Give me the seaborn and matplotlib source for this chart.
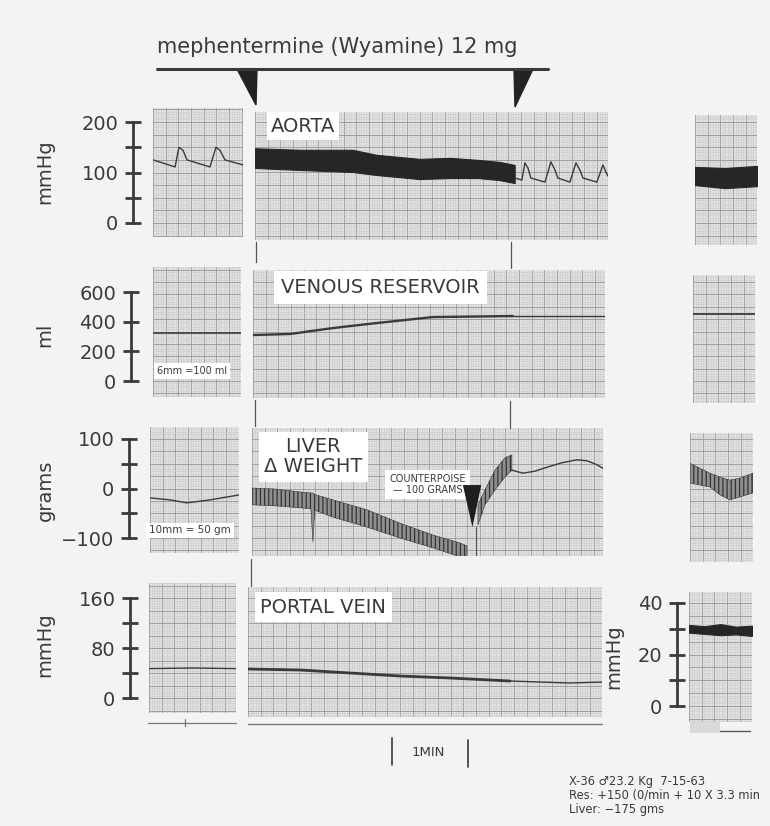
import numpy as np
import pandas as pd
import matplotlib
matplotlib.use("Agg")
import matplotlib.pyplot as plt
import seaborn as sns
from matplotlib.ticker import MultipleLocator
from matplotlib.patches import Polygon, Rectangle
from matplotlib.lines import Line2D

# ---------------- DATA (time in seconds from the left edge of each strip) ----------------
INJ_END = 205.0            # end of mephentermine infusion (s, main strip)
COUNTERPOISE_T = 174.0     # time of counterpoise (s, main liver strip)

# Aorta (mmHg)
AORTA_L_T = [0, 17.4, 20.5, 23.7, 26.8, 45.0, 49.7, 52.9, 56.8, 71.0]
AORTA_L_P = [125, 111, 150, 144, 125, 111, 150, 144, 125, 115]
AORTA_BAND_T = [0, 35.5, 77, 96, 130, 154, 176, 193, 205]
AORTA_BAND_SYS = [148, 145, 145, 135, 127, 129, 125, 121, 115]
AORTA_BAND_DIA = [109, 105, 101, 95, 87, 89, 89, 85, 79]
AORTA_POST_T = [205.2, 210.7, 213.1, 215.5, 217.8, 228.9, 233.6, 236.8, 239.1, 248.6,
                253.4, 256.5, 258.9, 269.9, 274.7, 277.0, 278.6]
AORTA_POST_P = [89, 85, 119, 109, 89, 81, 121, 105, 89, 81, 119, 105, 89, 81, 115, 101, 93]
AORTA_R_T = [0, 23.7, 48.9]
AORTA_R_SYS = [111, 109, 113]
AORTA_R_DIA = [75, 69, 73]

# Venous reservoir (ml)
VEN_L_T = [0, 69.5]
VEN_L_V = [323, 323]
VEN_M_T = [0, 29.2, 63.1, 97.9, 142.1, 205.2, 277.8]
VEN_M_V = [310, 317, 357, 391, 431, 438, 438]
VEN_R_T = [0, 48.9]
VEN_R_V = [452, 452]

# Liver weight change (grams)
LIV_L_T = [0, 15.8, 29.2, 47.4, 70.2]
LIV_L_G = [-19, -23, -29, -23, -13]
LIV_A_T = [0, 18.2, 37.9, 46.5, 48.1, 49.5, 63.9, 90.8, 116.8, 142.9, 164.2, 169.7]
LIV_A_TOP = [1, -1, -7, -9, -9, -12, -23, -43, -70, -94, -110, -116]
LIV_A_BOT = [-33, -35, -39, -41, -108, -44, -58, -78, -100, -120, -138, -138]
LIV_B_T = [178.4, 183.9, 191.8, 199.7, 205.2]
LIV_B_TOP = [-33, -3, 37, 62, 68]
LIV_B_BOT = [-74, -33, -3, 23, 37]
LIV_C_T = [205.2, 213.9, 223.4, 232.8, 244.7, 256.5, 264.4, 271.5, 277.0]
LIV_C_G = [37, 31, 35, 43, 52, 58, 56, 49, 41]
LIV_R_T = [0, 7.9, 15.8, 23.7, 31.6, 39.5, 49.7]
LIV_R_TOP = [51, 41, 31, 23, 17, 21, 31]
LIV_R_BOT = [11, 7, 3, -13, -23, -17, -9]

# Portal vein (mmHg)
POR_L_T = [0, 34, 68.7]
POR_L_P = [47, 48, 47]
POR_M_T = [0, 41, 80.5, 120, 159.4, 206.8, 230.5, 254.1, 279.4]
POR_M_P = [46.4, 44.8, 40, 35.2, 32, 27.2, 25.6, 24, 25.6]
POR_R_T = [0, 12, 25, 37, 49.7]
POR_R_TOP = [31.5, 31, 31.8, 30.8, 31.2]
POR_R_BOT = [28.5, 28, 27.5, 27.8, 27.2]

# Scale bar ticks / labels
AORTA_TICKS = [0, 50, 100, 150, 200];  AORTA_LABELS = ["0", "", "100", "", "200"]
VEN_TICKS = [0, 200, 400, 600];        VEN_LABELS = ["0", "200", "400", "600"]
LIV_TICKS = [-100, -50, 0, 50, 100];   LIV_LABELS = ["\u2212100", "", "0", "", "100"]
POR_TICKS = [0, 40, 80, 120, 160];     POR_LABELS = ["0", "", "80", "", "160"]
PORR_TICKS = [0, 10, 20, 30, 40];      PORR_LABELS = ["0", "", "20", "", "40"]

# ---------------- LAYOUT ----------------
W, H = 770, 826
PX_PER_S = 76 / 60.0
INK = "#3a3a3a"
PAPER = "#e2e2e0"
BG = "#f3f3f1"

sns.set_theme(style="white")
plt.rcParams['font.family'] = ['DejaVu Sans']
plt.rcParams['hatch.linewidth'] = 0.9

fig = plt.figure(figsize=(7.7, 8.26), dpi=100)
fig.patch.set_facecolor(BG)


def frect(x0, y0, x1, y1):
    return [x0 / W, 1 - y1 / H, (x1 - x0) / W, (y1 - y0) / H]


def fx(x):
    return x / W


def fy(y):
    return 1 - y / H


def ylims(ytop, ybot, scale):
    va, pya, vb, pyb = scale
    k = (va - vb) / (pyb - pya)
    return va - (ybot - pya) * k, va + (pya - ytop) * k


def panel(box, scale, ystep):
    x0, y0, x1, y1 = box
    ax = fig.add_axes(frect(*box))
    ax.set_facecolor(PAPER)
    ax.set_xlim(0, (x1 - x0) / PX_PER_S)
    ax.set_ylim(*ylims(y0, y1, scale))
    ax.xaxis.set_major_locator(MultipleLocator(10))
    ax.xaxis.set_minor_locator(MultipleLocator(2))
    ax.yaxis.set_major_locator(MultipleLocator(ystep))
    ax.yaxis.set_minor_locator(MultipleLocator(ystep / 5))
    ax.grid(which='minor', color='#cbcbc9', lw=0.4)
    ax.grid(which='major', color='#9a9a98', lw=0.65)
    ax.tick_params(which='both', length=0, labelbottom=False, labelleft=False)
    for s in ax.spines.values():
        s.set_visible(False)
    ax.set_axisbelow(True)
    return ax


def scalebar(x, scale, ticks, labels, title, title_x, title_y):
    va, pya, vb, pyb = scale
    ax = fig.add_axes(frect(x, pya, x + 1, pyb))
    ax.set_ylim(vb, va)
    ax.patch.set_alpha(0)
    for s in ['top', 'right', 'bottom']:
        ax.spines[s].set_visible(False)
    ax.spines['left'].set_linewidth(2.0)
    ax.spines['left'].set_color(INK)
    ax.set_xticks([])
    ax.set_yticks(ticks)
    ax.set_yticklabels(labels)
    ax.tick_params(axis='y', left=True, direction='inout', length=11, width=2.0, pad=5,
                   labelsize=14, colors=INK)
    fig.text(fx(title_x), fy(title_y), title, rotation=90, ha='center', va='center',
             fontsize=14, color=INK)


def trace(ax, t, v, lw=1.2):
    sns.lineplot(x=t, y=v, ax=ax, color=INK, lw=lw, estimator=None, sort=False)
    ax.set(xlabel='', ylabel='')


def band(ax, t, top, bot, dense=True):
    if dense:
        ax.fill_between(t, bot, top, facecolor='#262626', edgecolor='#262626', lw=0.8)
    else:
        ax.fill_between(t, bot, top, facecolor='#8c8c8c', edgecolor='#2e2e2e',
                        hatch='||||', lw=0.4, alpha=0.95)


def label(ax, x, y, s, size=14, ha='left', pad=3):
    ax.text(x, y, s, transform=ax.transAxes, ha=ha, va='center', fontsize=size,
            color=INK, linespacing=1.05,
            bbox=dict(facecolor='white', edgecolor='none', pad=pad), zorder=5)


def fline(x0, y0, x1, y1, lw=1.0, color='#555555'):
    fig.add_artist(Line2D([fx(x0), fx(x1)], [fy(y0), fy(y1)], lw=lw, color=color))


# ---------------- Row 1: Aorta ----------------
A_SCALE = (200, 122, 0, 223)
ax = panel((153, 108, 243, 237), A_SCALE, 25)
trace(ax, AORTA_L_T, AORTA_L_P, 1.0)
ax = panel((255, 112, 608, 240), A_SCALE, 25)
band(ax, AORTA_BAND_T, AORTA_BAND_SYS, AORTA_BAND_DIA)
trace(ax, AORTA_POST_T, AORTA_POST_P, 1.0)
label(ax, 0.045, 0.89, "AORTA")
ax = panel((695, 115, 757, 245), A_SCALE, 25)
band(ax, AORTA_R_T, AORTA_R_SYS, AORTA_R_DIA)
scalebar(133, A_SCALE, AORTA_TICKS, AORTA_LABELS, "mmHg", 45, 172)

# ---------------- Row 2: Venous reservoir ----------------
V_SCALE = (600, 292, 0, 381)
ax = panel((153, 267, 241, 397), V_SCALE, 600 / 7.2)
trace(ax, VEN_L_T, VEN_L_V, 1.2)
label(ax, 0.44, 0.2, "6mm =100 ml", size=7, ha='center', pad=2)
ax = panel((253, 270, 605, 398), V_SCALE, 600 / 7.2)
t = np.array(VEN_M_T); v = np.array(VEN_M_V)
trace(ax, t[t <= INJ_END + 1], v[t <= INJ_END + 1], 1.7)
trace(ax, t[t >= INJ_END - 1], v[t >= INJ_END - 1], 1.0)
label(ax, 0.08, 0.865, "VENOUS RESERVOIR", pad=5)
ax = panel((693, 275, 755, 403), V_SCALE, 600 / 7.2)
trace(ax, VEN_R_T, VEN_R_V, 1.3)
scalebar(131, V_SCALE, VEN_TICKS, VEN_LABELS, "ml", 45, 335)

# ---------------- Row 3: Liver weight ----------------
L_SCALE = (100, 439, -100, 538)
ax = panel((150, 427, 239, 553), L_SCALE, 25)
trace(ax, LIV_L_T, LIV_L_G, 1.0)
label(ax, 0.45, 0.18, "10mm = 50 gm", size=7.5, ha='center', pad=2)
ax = panel((252, 428, 603, 556), L_SCALE, 25)
band(ax, LIV_A_T, LIV_A_TOP, LIV_A_BOT, dense=False)
band(ax, LIV_B_T, LIV_B_TOP, LIV_B_BOT, dense=False)
trace(ax, LIV_C_T, LIV_C_G, 1.0)
label(ax, 0.175, 0.775, "LIVER\n\u0394 WEIGHT", ha='center', pad=4)
label(ax, 0.5, 0.56, "COUNTERPOISE\n\u2014 100 GRAMS", size=7, ha='center', pad=3)
ax.fill([COUNTERPOISE_T - 7.5, COUNTERPOISE_T + 7, COUNTERPOISE_T],
        [7, 7, -78], color='#1e1e1e', zorder=6, lw=0)
ax.plot([COUNTERPOISE_T + 2.5, COUNTERPOISE_T + 2.5], [-78, -140], color='#555', lw=0.8)
ax = panel((690, 433, 753, 562), L_SCALE, 25)
band(ax, LIV_R_T, LIV_R_TOP, LIV_R_BOT, dense=False)
scalebar(129, L_SCALE, LIV_TICKS, LIV_LABELS, "grams", 45, 490)

# ---------------- Row 4: Portal vein ----------------
P_SCALE = (160, 598, 0, 698)
ax = panel((149, 583, 236, 713), P_SCALE, 20)
trace(ax, POR_L_T, POR_L_P, 1.0)
ax = panel((248, 587, 602, 717), P_SCALE, 20)
t = np.array(POR_M_T); v = np.array(POR_M_P)
trace(ax, t[t <= INJ_END + 2], v[t <= INJ_END + 2], 2.0)
trace(ax, t[t >= INJ_END], v[t >= INJ_END], 1.0)
label(ax, 0.035, 0.845, "PORTAL VEIN", pad=4)
scalebar(130, P_SCALE, POR_TICKS, POR_LABELS, "mmHg", 45, 645)
PR_SCALE = (40, 603, 0, 706)
ax = panel((689, 592, 752, 722), PR_SCALE, 5)
band(ax, POR_R_T, POR_R_TOP, POR_R_BOT)
scalebar(677, PR_SCALE, PORR_TICKS, PORR_LABELS, "mmHg", 614, 657)

# ---------------- Title, injection markers, event lines ----------------
fig.text(fx(157), fy(47), "mephentermine (Wyamine) 12 mg", fontsize=15, color=INK,
         va='center', ha='left')
fline(157, 69, 548, 69, lw=2.2, color=INK)
fig.add_artist(Polygon([(fx(237), fy(69)), (fx(257), fy(69)), (fx(256), fy(105))],
                       closed=True, color='#222', transform=fig.transFigure))
fig.add_artist(Polygon([(fx(514), fy(69)), (fx(533), fy(69)), (fx(515), fy(107))],
                       closed=True, color='#222', transform=fig.transFigure))

for (x, y0, y1) in [(256, 242, 262), (511, 242, 268), (255, 400, 426), (510, 401, 428),
                    (251, 559, 586)]:
    fline(x, y0, x, y1, lw=0.9)

# time-mark lines under the portal strips
fline(148, 723, 236, 723, lw=0.9, color='#777')
fline(185, 719, 185, 726, lw=0.9, color='#777')
fline(248, 724, 602, 724, lw=1.0, color='#777')
fig.add_artist(Rectangle((fx(690), fy(733)), 30 / W, 11 / H, transform=fig.transFigure,
                         color='#d9d9d7', lw=0))
fline(720, 731, 750, 731, lw=1.0, color='#555')

# 1 MIN marker
fline(392, 738, 392, 765, lw=1.2, color=INK)
fline(468, 740, 468, 767, lw=1.2, color=INK)
fig.text(fx(428), fy(753), "1MIN", fontsize=9.5, color=INK, ha='center', va='center')

# Protocol notes
notes = ["X-36 \u264223.2 Kg  7-15-63",
         "Res: +150 (0/min + 10 X 3.3 min",
         "Liver: \u2212175 gms"]
for i, s in enumerate(notes):
    fig.text(fx(569), fy(781 + 14.5 * i), s, fontsize=8.3, color=INK, ha='left', va='center')

fig.savefig("out.png", dpi=100, facecolor=fig.get_facecolor())
